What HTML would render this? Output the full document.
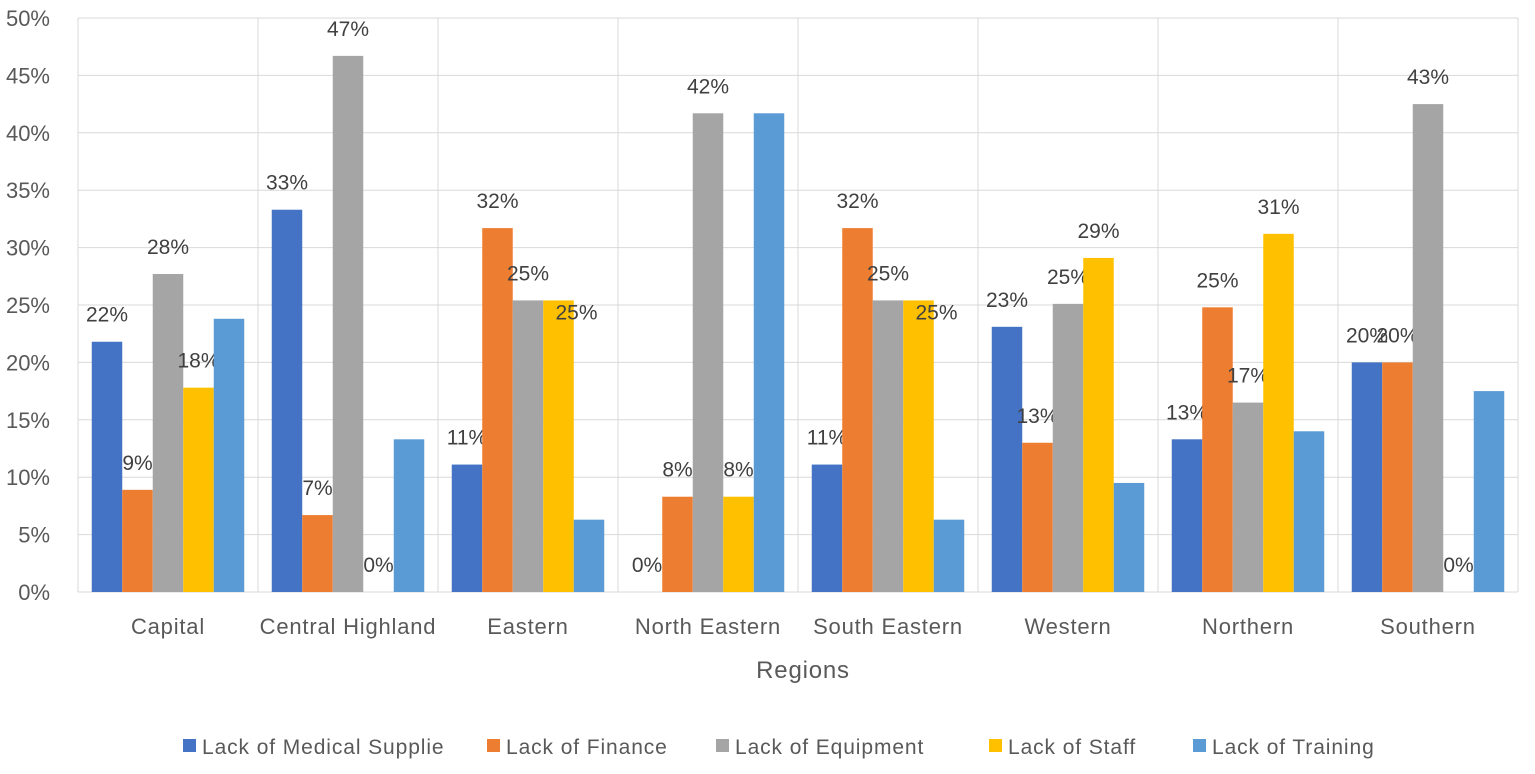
<!DOCTYPE html>
<html><head><meta charset="utf-8"><style>
body{margin:0;background:#fff;}
svg text{font-family:"Liberation Sans",sans-serif;}
</style></head><body>
<svg id="chart" width="1535" height="769" xmlns="http://www.w3.org/2000/svg"></svg>
<script>
const categories=["Capital","Central Highland","Eastern","North Eastern","South Eastern","Western","Northern","Southern"];
const seriesNames=["Lack of Medical Supplie","Lack of Finance","Lack of Equipment","Lack of Staff","Lack of Training"];
const medical=[21.8,33.3,11.1,0,11.1,23.1,13.3,20];
const finance=[8.9,6.7,31.7,8.3,31.7,13.0,24.8,20];
const equipment=[27.7,46.7,25.4,41.7,25.4,25.1,16.5,42.5];
const staff=[17.8,0,25.4,8.3,25.4,29.1,31.2,0];
const training=[23.8,13.3,6.3,41.7,6.3,9.5,14.0,17.5];
const yTicks=[0,5,10,15,20,25,30,35,40,45,50];
const colors=["#4472C4","#ED7D31","#A5A5A5","#FFC000","#5B9BD5"];
const series=[medical,finance,equipment,staff,training];
const showLabel=[true,true,true,true,false];

const NS="http://www.w3.org/2000/svg";
const svg=document.getElementById("chart");
const x0=78,catW=180,y0=592,yTop=18,yMax=50,barW=30.5;
const y=v=>y0-(v/yMax)*(y0-yTop);
function mk(t,a,p){const e=document.createElementNS(NS,t);for(const k in a)e.setAttribute(k,a[k]);(p||svg).appendChild(e);return e;}

yTicks.forEach(t=>{
  const l=mk("line",{x1:x0,x2:x0+catW*categories.length,y1:y(t),y2:y(t),stroke:"#d9d9d9","stroke-width":1});
  
  
  const tx=mk("text",{x:50,y:y(t)+8,"text-anchor":"end","font-size":22,fill:"#595959"});
  tx.textContent=t+"%";
  
  
});
for(let i=0;i<=categories.length;i++){
  const l=mk("line",{x1:x0+i*catW,x2:x0+i*catW,y1:yTop,y2:y0,stroke:"#d9d9d9","stroke-width":1});
  
  
}
categories.forEach((c,i)=>{
  const cx=x0+i*catW+catW/2;
  const start=cx-barW*2.5;
  let prev=null;
  series.forEach((s,j)=>{
    const v=s[i];
    const bx=start+j*barW;
    const r=mk("rect",{x:bx,y:y(v),width:barW,height:y0-y(v),fill:colors[j]});
    
    
    if(showLabel[j]){
      let lx=bx+barW/2,ly=y(v)-20;
      if(j===3&&prev&&Math.abs(prev.y-ly)<5){lx+=18;ly+=39;}
      const t=mk("text",{x:lx,y:ly,"text-anchor":"middle","font-size":21,fill:"#404040"});
      t.textContent=Math.round(v)+"%";
      
      
      prev={x:lx,y:ly};
    }
  });
  const t=mk("text",{x:cx,y:634,"text-anchor":"middle","font-size":22,"letter-spacing":"0.8",fill:"#595959"});
  t.textContent=c;
  
  
});
const xt=mk("text",{x:803,y:678,"text-anchor":"middle","font-size":24,"letter-spacing":"0.8",fill:"#595959"});
xt.textContent="Regions";


const legX=[183,487,716,989,1193];
seriesNames.forEach((n,j)=>{
  const g=mk("g",{});
  
  
  mk("rect",{x:legX[j],y:739,width:13,height:13,fill:colors[j]},g);
  const t=mk("text",{x:legX[j]+19,y:754,"font-size":21,"letter-spacing":"0.9",fill:"#595959"},g);
  t.textContent=n;
});
</script>
</body></html>
